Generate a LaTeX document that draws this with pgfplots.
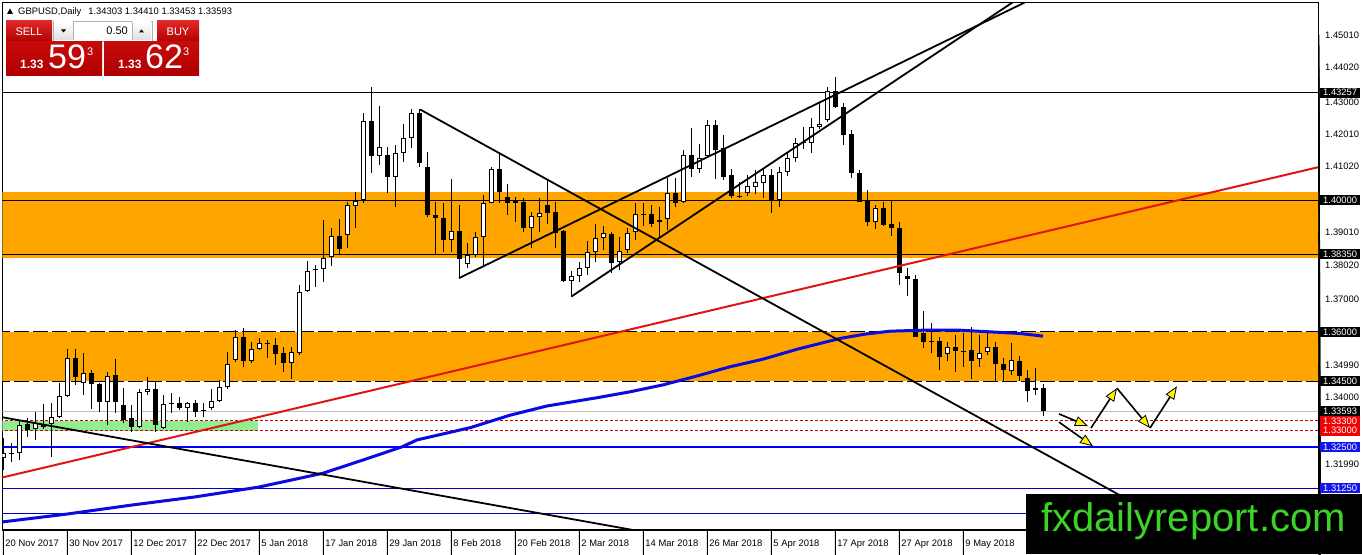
\documentclass[border=0pt]{standalone}
\usepackage{pgfplots}
\pgfplotsset{compat=1.18}
\usepackage{pgfplotstable}
\usepackage{fontspec}
\setmainfont{Liberation Sans}
\usetikzlibrary{arrows.meta}

\definecolor{mtorange}{RGB}{255,165,0}
\definecolor{mtgreen}{RGB}{144,238,144}
\definecolor{mtblue}{RGB}{0,0,255}
\definecolor{mablue}{RGB}{10,10,225}
\definecolor{navyline}{RGB}{0,0,190}
\definecolor{trred}{RGB}{225,20,20}
\definecolor{dotred}{RGB}{200,0,0}
\definecolor{gridgrey}{RGB}{190,190,190}
\definecolor{btnred}{RGB}{200,10,10}
\definecolor{btnredtop}{RGB}{225,40,40}
\definecolor{btnreddark}{RGB}{175,0,0}
\definecolor{logogreen}{RGB}{60,210,40}
\definecolor{lblred}{RGB}{240,0,0}
\definecolor{lblblue}{RGB}{20,20,235}

\newcommand\lblfont{\fontsize{9.4pt}{11pt}\selectfont}
\tikzset{
  plainlbl/.style={anchor=west, inner sep=0pt, font=\lblfont, xshift=6pt},
  boxlbl/.style={anchor=west, inner sep=0pt, minimum width=40pt, minimum height=10pt, font=\lblfont, xshift=1pt, text=white},
  datelbl/.style={anchor=base west, inner sep=0pt, font=\lblfont, xshift=2pt, yshift=-16pt},
}
\pgfplotsset{
  candlepart/.style n args={2}{draw=none, mark=none, forget plot,
    error bars/.cd, y dir=minus, y explicit, error mark=none,
    error bar style={draw=#2, line width=#1}},
}

\pgfplotstableread{
x O H L C
0 1.3217 1.3278 1.3181 1.3232
1 1.3232 1.3262 1.3205 1.3230
2 1.3232 1.3332 1.3211 1.3317
3 1.3320 1.3338 1.3281 1.3302
4 1.3305 1.3357 1.3272 1.3323
5 1.3320 1.3381 1.3305 1.3311
6 1.3320 1.3384 1.3220 1.3341
7 1.3341 1.3445 1.3338 1.3405
8 1.3405 1.3548 1.3402 1.3521
9 1.3521 1.3548 1.3439 1.3463
10 1.3445 1.3536 1.3408 1.3475
11 1.3475 1.3484 1.3366 1.3442
12 1.3442 1.3445 1.3357 1.3387
13 1.3387 1.3478 1.3317 1.3466
14 1.3469 1.3518 1.3354 1.3387
15 1.3378 1.3429 1.3323 1.3332
16 1.3338 1.3378 1.3296 1.3311
17 1.3311 1.3426 1.3308 1.3417
18 1.3417 1.3463 1.3408 1.3426
19 1.3426 1.3448 1.3296 1.3317
20 1.3308 1.3408 1.3305 1.3381
21 1.3381 1.3414 1.3354 1.3384
22 1.3384 1.3402 1.3363 1.3369
23 1.3369 1.3387 1.3326 1.3384
24 1.3384 1.3393 1.3341 1.3357
25 1.3360 1.3384 1.3341 1.3363
26 1.3369 1.3426 1.3363 1.3390
27 1.3390 1.3454 1.3387 1.3432
28 1.3432 1.3539 1.3426 1.3502
29 1.3515 1.3606 1.3508 1.3584
30 1.3584 1.3612 1.3493 1.3511
31 1.3511 1.3569 1.3505 1.3548
32 1.3548 1.3581 1.3545 1.3566
33 1.3563 1.3575 1.3521 1.3565
34 1.3560 1.3581 1.3499 1.3533
35 1.3536 1.3554 1.3478 1.3505
36 1.3505 1.3554 1.3457 1.3539
37 1.3536 1.3742 1.3530 1.3721
38 1.3724 1.3815 1.3721 1.3785
39 1.3791 1.3803 1.3736 1.3790
40 1.3791 1.3939 1.3751 1.3824
41 1.3827 1.3915 1.3800 1.3891
42 1.3891 1.3942 1.3833 1.3851
43 1.3894 1.3994 1.3854 1.3985
44 1.3982 1.4024 1.3915 1.3997
45 1.4000 1.4264 1.3991 1.4240
46 1.4240 1.4343 1.4082 1.4134
47 1.4134 1.4285 1.4106 1.4161
48 1.4137 1.4161 1.4021 1.4070
49 1.4070 1.4167 1.3979 1.4143
50 1.4143 1.4231 1.4115 1.4188
51 1.4188 1.4276 1.4158 1.4264
52 1.4264 1.4276 1.4100 1.4112
53 1.4100 1.4146 1.3948 1.3954
54 1.3954 1.3994 1.3833 1.3945
55 1.3945 1.3991 1.3842 1.3879
56 1.3879 1.4064 1.3842 1.3906
57 1.3906 1.3985 1.3763 1.3821
58 1.3806 1.3870 1.3794 1.3833
59 1.3833 1.3903 1.3827 1.3888
60 1.3888 1.4015 1.3803 1.3991
61 1.3991 1.4100 1.3990 1.4094
62 1.4094 1.4140 1.3991 1.4024
63 1.4009 1.4049 1.3954 1.3991
64 1.4000 1.4009 1.3933 1.3991
65 1.3994 1.4006 1.3903 1.3915
66 1.3915 1.3964 1.3854 1.3951
67 1.3948 1.4006 1.3903 1.3961
68 1.3985 1.4061 1.3927 1.3961
69 1.3964 1.3994 1.3854 1.3900
70 1.3906 1.3909 1.3751 1.3754
71 1.3754 1.3785 1.3710 1.3770
72 1.3770 1.3812 1.3751 1.3794
73 1.3794 1.3876 1.3773 1.3842
74 1.3842 1.3927 1.3812 1.3884
75 1.3884 1.3921 1.3848 1.3900
76 1.3897 1.3903 1.3779 1.3809
77 1.3812 1.3888 1.3788 1.3845
78 1.3848 1.3915 1.3839 1.3900
79 1.3903 1.3991 1.3879 1.3958
80 1.3958 1.3991 1.3921 1.3959
81 1.3958 1.3985 1.3918 1.3927
82 1.3933 1.3979 1.3888 1.3939
83 1.3942 1.4067 1.3909 1.4021
84 1.4021 1.4067 1.3979 1.3991
85 1.3994 1.4152 1.3991 1.4137
86 1.4137 1.4219 1.4070 1.4094
87 1.4094 1.4170 1.4082 1.4128
88 1.4134 1.4243 1.4131 1.4228
89 1.4228 1.4243 1.4064 1.4152
90 1.4158 1.4197 1.4061 1.4070
91 1.4076 1.4094 1.4006 1.4012
92 1.4012 1.4055 1.4006 1.4011
93 1.4021 1.4076 1.4012 1.4043
94 1.4039 1.4091 1.4018 1.4055
95 1.4052 1.4094 1.4006 1.4076
96 1.4076 1.4094 1.3961 1.4000
97 1.4000 1.4100 1.3979 1.4085
98 1.4085 1.4143 1.4073 1.4128
99 1.4128 1.4188 1.4115 1.4173
100 1.4176 1.4222 1.4155 1.4175
101 1.4173 1.4249 1.4143 1.4222
102 1.4222 1.4294 1.4215 1.4231
103 1.4243 1.4343 1.4237 1.4331
104 1.4331 1.4373 1.4279 1.4282
105 1.4282 1.4294 1.4167 1.4197
106 1.4200 1.4212 1.4067 1.4082
107 1.4082 1.4091 1.3994 1.3995
108 1.4000 1.4030 1.3921 1.3933
109 1.3933 1.3985 1.3912 1.3976
110 1.3976 1.3994 1.3921 1.3924
111 1.3927 1.3997 1.3891 1.3915
112 1.3915 1.3933 1.3742 1.3779
113 1.3770 1.3794 1.3709 1.3760
114 1.3760 1.3773 1.3584 1.3585
115 1.3596 1.3663 1.3551 1.3569
116 1.3572 1.3627 1.3536 1.3571
117 1.3572 1.3584 1.3484 1.3524
118 1.3533 1.3569 1.3511 1.3554
119 1.3554 1.3590 1.3478 1.3542
120 1.3542 1.3596 1.3493 1.3541
121 1.3545 1.3615 1.3457 1.3511
122 1.3518 1.3590 1.3493 1.3536
123 1.3539 1.3596 1.3530 1.3554
124 1.3554 1.3569 1.3448 1.3502
125 1.3502 1.3521 1.3451 1.3484
126 1.3481 1.3566 1.3469 1.3515
127 1.3511 1.3527 1.3451 1.3466
128 1.3460 1.3484 1.3387 1.3420
129 1.3423 1.3490 1.3408 1.3429
130 1.34303 1.34410 1.33453 1.33593
}\candles

\begin{document}
\begin{tikzpicture}[x=1pt,y=1pt]
\fill[white] (0,0) rectangle (1362,554);
\useasboundingbox (0,0) rectangle (1362,554);
\begin{axis}[
  at={(2.5pt,24pt)}, anchor=south west, scale only axis,
  width=1316.5pt, height=527.5pt,
  xmin=-0.1, xmax=164.4625, ymin=1.299845, ymax=1.459941,
  clip mode=individual,
  axis line style={black, line width=1pt},
  xtick=\empty, ytick=\empty,
]
% zones
\addplot[fill=mtorange, draw=none] coordinates {(-1,1.3823) (170,1.3823) (170,1.4024) (-1,1.4024)} -- cycle;
\addplot[fill=mtorange, draw=none] coordinates {(-1,1.3450) (170,1.3450) (170,1.3600) (-1,1.3600)} -- cycle;
\addplot[fill=mtgreen, draw=none] coordinates {(-1,1.3300) (31.8,1.3300) (31.8,1.3330) (-1,1.3330)} -- cycle;
% horizontal levels
\addplot[black, line width=1pt] coordinates {(-1,1.43257) (170,1.43257)};
\addplot[black, line width=1pt] coordinates {(-1,1.40000) (170,1.40000)};
\addplot[black, line width=1pt] coordinates {(-1,1.38350) (170,1.38350)};
\addplot[black, line width=1pt, dash pattern=on 15pt off 4pt] coordinates {(-1,1.36000) (170,1.36000)};
\addplot[black, line width=1pt, dash pattern=on 15pt off 4pt] coordinates {(-1,1.34500) (170,1.34500)};
\addplot[gridgrey, line width=1pt] coordinates {(-1,1.33593) (170,1.33593)};
\addplot[dotred, line width=1pt, dash pattern=on 3pt off 2pt] coordinates {(-1,1.33300) (170,1.33300)};
\addplot[dotred, line width=1pt, dash pattern=on 3pt off 2pt] coordinates {(-1,1.33000) (170,1.33000)};
\addplot[mtblue, line width=2.2pt] coordinates {(-1,1.32500) (170,1.32500)};
\addplot[navyline, line width=1pt] coordinates {(-1,1.31250) (170,1.31250)};
\addplot[navyline, line width=1pt] coordinates {(-1,1.30500) (170,1.30500)};
% candles: wicks, bodies, hollow part of rising candles
\addplot[candlepart={1pt}{black}]
  table[x=x, y=H, y error minus expr=\thisrow{H}-\thisrow{L}] {\candles};
\addplot[candlepart={5pt}{black}]
  table[x=x, y expr={max(\thisrow{O},\thisrow{C})}, y error minus expr={max(abs(\thisrow{C}-\thisrow{O}),0.0003)}] {\candles};
\addplot[candlepart={3pt}{white}]
  table[x=x, y expr={\thisrow{C}-0.0003035}, y error minus expr={max(\thisrow{C}-\thisrow{O}-0.000607,0)}] {\candles};
% moving average
\addplot[mablue, line width=3pt] coordinates {
(-0.16,1.3023) (7.96,1.3047) (15.96,1.3074) (23.96,1.3099) (31.96,1.3129)
(39.96,1.3171) (44.96,1.3211) (49.84,1.3251) (51.71,1.3272) (58.34,1.3309)
(63.34,1.3347) (67.96,1.3375) (74.21,1.3400) (78.34,1.3418) (82.46,1.3439)
(86.71,1.3466) (90.84,1.3494) (94.96,1.3517) (99.21,1.3547) (104.59,1.3580)
(107.71,1.3593) (110.84,1.3602) (114.96,1.3605) (119.59,1.3605) (123.34,1.3600)
(127.09,1.3595) (129.96,1.3587)};
% trend lines
\addplot[trred, line width=2pt] coordinates {(-1,1.3153) (166,1.4109)};
\addplot[black, line width=1.8pt] coordinates {(-0.16,1.3341) (82.09,1.2984)};
\addplot[black, line width=1.8pt] coordinates {(52.09,1.4275) (149.59,1.2970)};
\addplot[black, line width=1.8pt] coordinates {(56.96,1.3763) (137.1,1.4711)};
\addplot[black, line width=1.8pt] coordinates {(71.0,1.3707) (137.1,1.4777)};
% arrows
\draw[line width=1.6pt, -{Triangle[length=13pt,width=10pt,fill=yellow,line width=0.8pt]}] (axis cs:131.96,1.3351) -- (axis cs:135.59,1.3314);
\draw[line width=1.6pt, -{Triangle[length=13pt,width=10pt,fill=yellow,line width=0.8pt]}] (axis cs:131.96,1.3326) -- (axis cs:136.21,1.3253);
\draw[line width=1.6pt, -{Triangle[length=13pt,width=10pt,fill=yellow,line width=0.8pt]}] (axis cs:135.96,1.3308) -- (axis cs:139.21,1.3429);
\draw[line width=1.6pt, -{Triangle[length=13pt,width=10pt,fill=yellow,line width=0.8pt]}] (axis cs:139.21,1.3429) -- (axis cs:143.34,1.3308);
\draw[line width=1.6pt, -{Triangle[length=13pt,width=10pt,fill=yellow,line width=0.8pt]}] (axis cs:143.34,1.3308) -- (axis cs:146.71,1.3435);
% bottom axis ticks and date labels
\draw[line width=2pt] (axis cs:-0.1,1.299845) -- (axis cs:164.4625,1.299845);
\pgfplotsinvokeforeach{0,8,...,120}{\draw[line width=1pt] (axis cs:#1,1.299845) -- ++(0,-5pt);}
\node[datelbl] at (axis cs:0,1.299845) {20 Nov 2017};
\node[datelbl] at (axis cs:8,1.299845) {30 Nov 2017};
\node[datelbl] at (axis cs:16,1.299845) {12 Dec 2017};
\node[datelbl] at (axis cs:24,1.299845) {22 Dec 2017};
\node[datelbl] at (axis cs:32,1.299845) {5 Jan 2018};
\node[datelbl] at (axis cs:40,1.299845) {17 Jan 2018};
\node[datelbl] at (axis cs:48,1.299845) {29 Jan 2018};
\node[datelbl] at (axis cs:56,1.299845) {8 Feb 2018};
\node[datelbl] at (axis cs:64,1.299845) {20 Feb 2018};
\node[datelbl] at (axis cs:72,1.299845) {2 Mar 2018};
\node[datelbl] at (axis cs:80,1.299845) {14 Mar 2018};
\node[datelbl] at (axis cs:88,1.299845) {26 Mar 2018};
\node[datelbl] at (axis cs:96,1.299845) {5 Apr 2018};
\node[datelbl] at (axis cs:104,1.299845) {17 Apr 2018};
\node[datelbl] at (axis cs:112,1.299845) {27 Apr 2018};
\node[datelbl] at (axis cs:120,1.299845) {9 May 2018};
% right price scale
\pgfplotsinvokeforeach{1.4501,1.4402,1.4300,1.4201,1.4102,1.4000,1.3901,1.3802,1.3700,1.3600,1.3499,1.3400,1.3300,1.3199}{\draw[line width=1pt] (axis cs:164.4625,#1) -- ++(3pt,0);}
\node[plainlbl] at (axis cs:164.4625,1.4501) {1.45010};
\node[plainlbl] at (axis cs:164.4625,1.4402) {1.44020};
\node[plainlbl] at (axis cs:164.4625,1.4298) {1.43000};
\node[plainlbl] at (axis cs:164.4625,1.4201) {1.42010};
\node[plainlbl] at (axis cs:164.4625,1.4102) {1.41020};
\node[plainlbl] at (axis cs:164.4625,1.3901) {1.39010};
\node[plainlbl] at (axis cs:164.4625,1.3802) {1.38020};
\node[plainlbl] at (axis cs:164.4625,1.3700) {1.37000};
\node[plainlbl] at (axis cs:164.4625,1.3499) {1.34990};
\node[plainlbl] at (axis cs:164.4625,1.3400) {1.34000};
\node[plainlbl] at (axis cs:164.4625,1.3199) {1.31990};
\node[boxlbl, fill=black] at (axis cs:164.4625,1.43257) {1.43257};
\node[boxlbl, fill=black] at (axis cs:164.4625,1.40000) {1.40000};
\node[boxlbl, fill=black] at (axis cs:164.4625,1.38350) {1.38350};
\node[boxlbl, fill=black] at (axis cs:164.4625,1.36000) {1.36000};
\node[boxlbl, fill=black] at (axis cs:164.4625,1.34500) {1.34500};
\node[boxlbl, fill=lblblue] at (axis cs:164.4625,1.31250) {1.31250};
\node[boxlbl, fill=lblblue] at (axis cs:164.4625,1.32500) {1.32500};
\node[boxlbl, fill=lblred] at (axis cs:164.4625,1.33000) {1.33000};
\node[boxlbl, fill=lblred] at (axis cs:164.4625,1.33300) {1.33300};
\node[boxlbl, fill=black] at (axis cs:164.4625,1.33593) {1.33593};
\end{axis}

% header
\fill[black] (7,540) -- (13,540) -- (10,545.5) -- cycle;
\node[anchor=base west, inner sep=0pt, font=\lblfont] at (18,539.5) {GBPUSD,Daily\hspace{7pt}1.34303 1.34410 1.33453 1.33593};

% one-click trading panel
\shade[top color=btnredtop, bottom color=btnreddark] (6,512) rectangle (52,533);
\node[text=white, font=\fontsize{11pt}{13pt}\selectfont, inner sep=0pt] at (29,522.5) {SELL};
\draw[gray!60, fill=white] (53,513) rectangle (152,533);
\shade[top color=white, bottom color=gray!25] (54,514) rectangle (73,532);
\shade[top color=white, bottom color=gray!25] (132,514) rectangle (151,532);
\draw[gray!60] (73,514) -- (73,532) (132,514) -- (132,532);
\fill[black] (61,524.5) -- (66,524.5) -- (63.5,521.5) -- cycle;
\fill[black] (139,521.5) -- (144,521.5) -- (141.5,524.5) -- cycle;
\node[anchor=east, inner sep=0pt, font=\fontsize{11pt}{13pt}\selectfont] at (128,523) {0.50};
\shade[top color=btnredtop, bottom color=btnreddark] (157,512) rectangle (199,533);
\node[text=white, font=\fontsize{11pt}{13pt}\selectfont, inner sep=0pt] at (178,522.5) {BUY};
\draw[white!70!red, line width=0.6pt] (9,512.5) -- (49,512.5) (160,512.5) -- (196,512.5);
\shade[top color=btnred, bottom color=btnreddark] (6,478) rectangle (102,512);
\shade[top color=btnred, bottom color=btnreddark] (104,478) rectangle (199,512);
\node[anchor=base west, inner sep=0pt, text=white, font=\fontsize{12pt}{14pt}\selectfont\bfseries] at (20,485) {1.33};
\node[anchor=base west, inner sep=0pt, text=white, font=\fontsize{34pt}{36pt}\selectfont] at (48,485) {59};
\node[anchor=base west, inner sep=0pt, text=white, font=\fontsize{11pt}{13pt}\selectfont] at (87,498) {3};
\node[anchor=base west, inner sep=0pt, text=white, font=\fontsize{12pt}{14pt}\selectfont\bfseries] at (118,485) {1.33};
\node[anchor=base west, inner sep=0pt, text=white, font=\fontsize{34pt}{36pt}\selectfont] at (145,485) {62};
\node[anchor=base west, inner sep=0pt, text=white, font=\fontsize{11pt}{13pt}\selectfont] at (183,498) {3};

% logo
\fill[black] (1026,0) rectangle (1362,60);
\node[anchor=base west, inner sep=0pt, text=logogreen, font=\fontsize{40pt}{44pt}\selectfont] at (1041,22.3) {fxdailyreport.com};
\end{tikzpicture}
\end{document}
